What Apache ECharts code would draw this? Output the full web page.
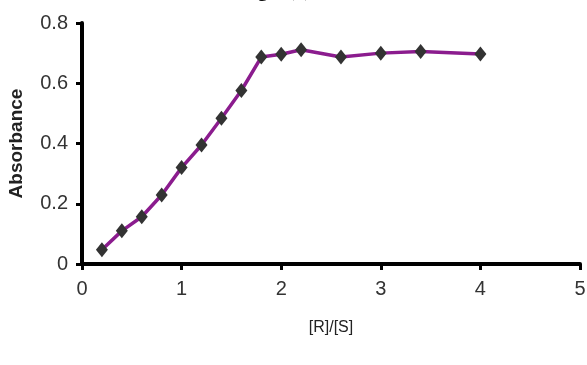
<!DOCTYPE html>
<html>
<head>
<meta charset="utf-8">
<script src="https://cdn.jsdelivr.net/npm/echarts@6/dist/echarts.min.js"></script>
<style>
  html, body { margin: 0; padding: 0; background: #fff; }
  #chart { width: 587px; height: 365px; }
</style>
</head>
<body>
<div id="chart"></div>
<script>
// ratio [R]/[S] and measured absorbance
var ratio = [0.2, 0.4, 0.6, 0.8, 1.0, 1.2, 1.4, 1.6, 1.8, 2.0, 2.2, 2.6, 3.0, 3.4, 4.0];
var absorbance = [0.047, 0.11, 0.157, 0.229, 0.32, 0.395, 0.484, 0.576, 0.687, 0.696, 0.711, 0.687, 0.70, 0.705, 0.697];

var points = ratio.map(function (r, i) { return [r, absorbance[i]]; });

var chart = echarts.init(document.getElementById('chart'));
chart.setOption({
  animation: false,
  title: {
    text: 'Fig. 3(a)',
    left: 240,
    top: -19,
    padding: 0,
    textStyle: { fontFamily: 'Liberation Serif', fontWeight: 'bold', fontSize: 20, color: '#111' }
  },
  grid: { left: 82, right: 7, top: 23, bottom: 101, outerBoundsMode: 'none' },
  xAxis: {
    type: 'value',
    min: 0, max: 5, interval: 1,
    name: '[R]/[S]',
    nameLocation: 'middle',
    nameGap: 56,
    nameTextStyle: { fontFamily: 'Liberation Sans', fontSize: 16, color: '#222' },
    axisLine: { lineStyle: { color: '#000', width: 4 } },
    axisTick: { show: true, length: 6, lineStyle: { color: '#000', width: 3 } },
    axisLabel: { fontFamily: 'Liberation Sans', fontSize: 20, color: '#333', margin: 15 },
    splitLine: { show: false }
  },
  yAxis: {
    type: 'value',
    min: 0, max: 0.8, interval: 0.2,
    name: 'Absorbance',
    nameLocation: 'middle',
    nameGap: 56,
    nameTextStyle: { fontFamily: 'Liberation Sans', fontWeight: 'bold', fontSize: 19, color: '#222' },
    axisLine: { show: true, lineStyle: { color: '#000', width: 4 } },
    axisTick: { show: true, length: 6, lineStyle: { color: '#000', width: 3 } },
    axisLabel: {
      fontFamily: 'Liberation Sans', fontSize: 20, color: '#333', margin: 14,
      formatter: function (v) { return v === 0 ? '0' : v.toFixed(1); }
    },
    splitLine: { show: false }
  },
  series: [{
    type: 'line',
    data: points,
    symbol: 'diamond',
    symbolSize: [12, 15],
    lineStyle: { color: '#8b1c8e', width: 3.5 },
    itemStyle: { color: '#333' }
  }]
});
</script>
</body>
</html>
